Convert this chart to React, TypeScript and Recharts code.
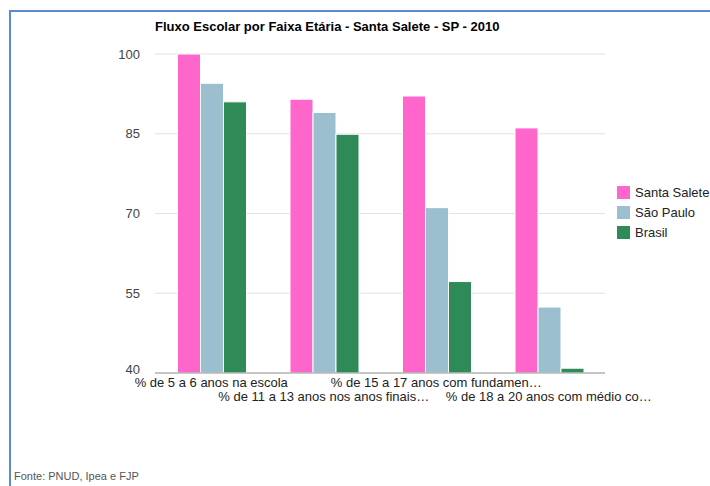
import React from "react";
import { BarChart, Bar, XAxis, YAxis, CartesianGrid, Legend } from "recharts";

const categories = [
  "% de 5 a 6 anos na escola",
  "% de 11 a 13 anos nos anos finais…",
  "% de 15 a 17 anos com fundamen…",
  "% de 18 a 20 anos com médio co…",
];
const santaSalete = [100, 91.5, 92.1, 86.1];
const saoPaulo = [94.5, 89.0, 71.1, 52.4];
const brasil = [91.0, 84.9, 57.2, 40.9];
const yTicks = [40, 55, 70, 85, 100];

const seriesNames = ["Santa Salete", "São Paulo", "Brasil"];
const seriesColors = ["#ff66cc", "#9bbfce", "#2e8b57"];

const data = categories.map((name, i) => ({
  name,
  santaSalete: santaSalete[i],
  saoPaulo: saoPaulo[i],
  brasil: brasil[i],
}));

const font = "Arial, 'Liberation Sans', sans-serif";

function StaggeredTick(props: any) {
  const { x, y, payload, index } = props;
  const dy = index % 2 === 0 ? 14 : 28;
  return (
    <text x={x} y={y + dy} textAnchor="middle" fontSize={13} fontFamily={font} fill="#222">
      {payload.value}
    </text>
  );
}

function ValueTick(props: any) {
  const { x, y, payload, index } = props;
  // lowest label sits a little higher so it clears the category labels
  const shift = index === 0 ? -4 : 0;
  return (
    <text x={x} y={y + shift} dy="0.355em" textAnchor="end" fontSize={13} fontFamily={font} fill="#444">
      {payload.value}
    </text>
  );
}

function LegendBox() {
  return (
    <div style={{ fontFamily: font, fontSize: 13, color: "#222" }}>
      {seriesNames.map((n, i) => (
        <div key={n} style={{ display: "flex", alignItems: "center", height: 20 }}>
          <span style={{ display: "inline-block", width: 13, height: 13, background: seriesColors[i], marginRight: 5 }} />
          {n}
        </div>
      ))}
    </div>
  );
}

export default function App() {
  return (
    <div style={{ position: "absolute", left: 0, top: 0, width: 710, height: 486, overflow: "hidden", background: "#fff" }}>
      <div
        style={{
          position: "absolute",
          left: 9,
          top: 10,
          width: 720,
          height: 500,
          borderTop: "2px solid #5b8bd0",
          borderLeft: "2px solid #5b8bd0",
        }}
      />
      <BarChart
        width={710}
        height={486}
        data={data}
        margin={{ top: 54, right: 105, left: 115, bottom: 83 }}
        barCategoryGap="20%"
        barGap={0}
      >
        <CartesianGrid vertical={false} stroke="#e2e2e2" />
        <XAxis
          dataKey="name"
          height={30}
          interval={0}
          tickLine={false}
          tickSize={0}
          tickMargin={0}
          axisLine={{ stroke: "#999" }}
          tick={<StaggeredTick />}
        />
        <YAxis
          width={40}
          domain={[40, 100]}
          ticks={yTicks}
          axisLine={false}
          tickLine={false}
          tickSize={0}
          tickMargin={15}
          tick={<ValueTick />}
        />
        <Legend
          layout="vertical"
          align="center"
          verticalAlign="middle"
          wrapperStyle={{ left: 617, top: 182, width: 93 }}
          content={<LegendBox />}
        />
        <Bar dataKey="santaSalete" name="Santa Salete" fill={seriesColors[0]} stroke="#fff" strokeWidth={1} isAnimationActive={false} />
        <Bar dataKey="saoPaulo" name="São Paulo" fill={seriesColors[1]} stroke="#fff" strokeWidth={1} isAnimationActive={false} />
        <Bar dataKey="brasil" name="Brasil" fill={seriesColors[2]} stroke="#fff" strokeWidth={1} isAnimationActive={false} />
      </BarChart>
      <div
        style={{
          position: "absolute",
          left: 155,
          top: 19,
          fontFamily: font,
          fontSize: 13,
          fontWeight: "bold",
          color: "#000",
          whiteSpace: "nowrap",
        }}
      >
        Fluxo Escolar por Faixa Etária - Santa Salete - SP - 2010
      </div>
      <div
        style={{
          position: "absolute",
          left: 14,
          top: 470,
          fontFamily: font,
          fontSize: 11,
          color: "#555",
          whiteSpace: "nowrap",
        }}
      >
        Fonte: PNUD, Ipea e FJP
      </div>
    </div>
  );
}
